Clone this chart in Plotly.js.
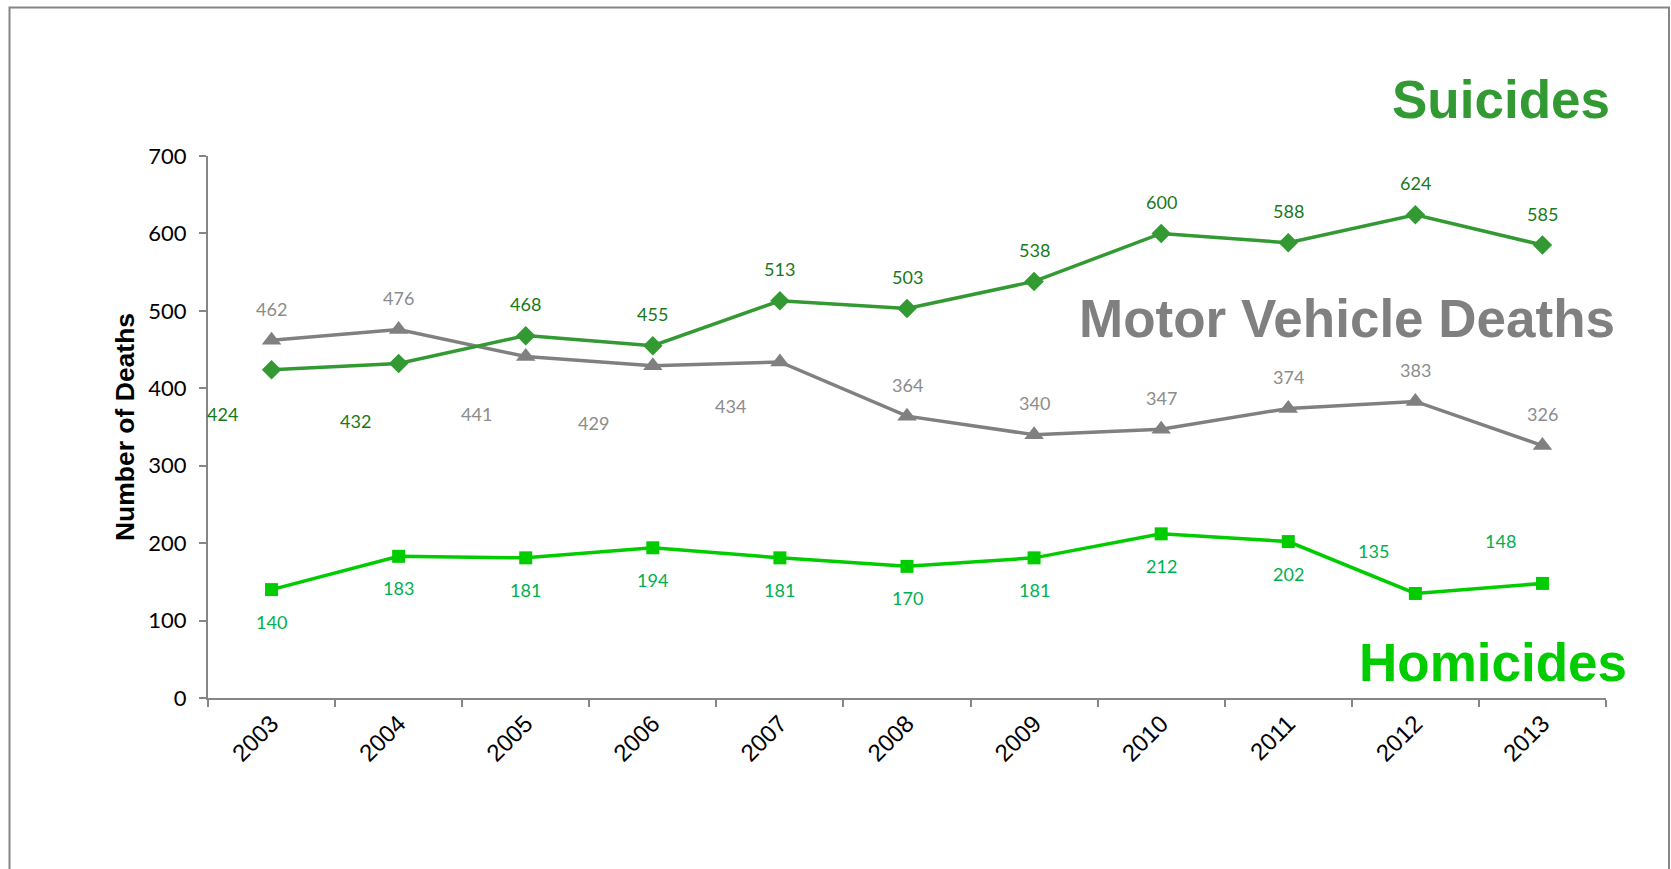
<!DOCTYPE html>
<html>
<head>
<meta charset="utf-8">
<script src="https://cdn.plot.ly/plotly-3.0.1.min.js"></script>
<style>
  html, body { margin: 0; padding: 0; background: #ffffff; }
  #chart { width: 1671px; height: 869px; }
</style>
</head>
<body>
<div id="chart"></div>
<script>
// ---- Data ----
const years = ["2003","2004","2005","2006","2007","2008","2009","2010","2011","2012","2013"];
const suicides = [424, 432, 468, 455, 513, 503, 538, 600, 588, 624, 585];
const motorVehicleDeaths = [462, 476, 441, 429, 434, 364, 340, 347, 374, 383, 326];
const homicides = [140, 183, 181, 194, 181, 170, 181, 212, 202, 135, 148];
const yTicks = [0, 100, 200, 300, 400, 500, 600, 700];

// ---- Label placement (style only; screen-pixel offsets, dy positive = down) ----
const ABOVE = [0, -31.5], BELOW = [0, 32];
const suicideLabelPos = [[-49, 44], [-43, 57.5], ABOVE, ABOVE, ABOVE, ABOVE, ABOVE, ABOVE, ABOVE, ABOVE, ABOVE];
const mvLabelPos = [ABOVE, ABOVE, [-49, 57], [-59, 57], [-49, 44], ABOVE, ABOVE, ABOVE, ABOVE, ABOVE, ABOVE];
const homLabelPos = [BELOW, BELOW, BELOW, BELOW, BELOW, BELOW, BELOW, BELOW, BELOW, [-42, -42], [-42, -42]];

const C_SUI = "#339933", C_SUI_TXT = "#17791a";
const C_MV = "#808080", C_MV_TXT = "#8c8c8c";
const C_HOM = "#00cc00", C_HOM_TXT = "#00b050";
const AXIS = "#868686";
const LABEL_FONT = "Lato, 'Open Sans', sans-serif";
const ARIAL = "'Liberation Sans', Arial, sans-serif";

const traces = [
  {
    x: years, y: motorVehicleDeaths, type: "scatter", mode: "lines+markers",
    name: "Motor Vehicle Deaths",
    line: { color: C_MV, width: 3.5 },
    marker: { symbol: "triangle-up", size: 17, color: C_MV },
    hoverinfo: "x+y"
  },
  {
    x: years, y: suicides, type: "scatter", mode: "lines+markers",
    name: "Suicides",
    line: { color: C_SUI, width: 3.5 },
    marker: { symbol: "diamond", size: 15, color: C_SUI },
    hoverinfo: "x+y"
  },
  {
    x: years, y: homicides, type: "scatter", mode: "lines+markers",
    name: "Homicides",
    line: { color: C_HOM, width: 3.5 },
    marker: { symbol: "square", size: 13, color: C_HOM },
    hoverinfo: "x+y"
  }
];

function labels(values, pos, color) {
  return values.map((v, i) => ({
    x: i, y: v, xref: "x", yref: "y",
    text: String(v), showarrow: false,
    xanchor: "center", yanchor: "middle",
    xshift: pos[i][0], yshift: -pos[i][1],
    font: { family: LABEL_FONT, size: 18, color: color }
  }));
}

const annotations = []
  .concat(labels(suicides, suicideLabelPos, C_SUI_TXT))
  .concat(labels(motorVehicleDeaths, mvLabelPos, C_MV_TXT))
  .concat(labels(homicides, homLabelPos, C_HOM_TXT))
  .concat([
    { xref: "paper", yref: "paper", x: 1.0043, y: 1.105, xanchor: "right", yanchor: "middle",
      text: "<b>Suicides</b>", showarrow: false,
      font: { family: ARIAL, size: 53, color: C_SUI } },
    { xref: "paper", yref: "paper", x: 1.0079, y: 0.7002, xanchor: "right", yanchor: "middle",
      text: "<b>Motor Vehicle Deaths</b>", showarrow: false,
      font: { family: ARIAL, size: 53, color: C_MV } },
    { xref: "paper", yref: "paper", x: 1.0165, y: 0.0653, xanchor: "right", yanchor: "middle",
      text: "<b>Homicides</b>", showarrow: false,
      font: { family: ARIAL, size: 53, color: C_HOM } }
  ]);

const layout = {
  width: 1671, height: 869,
  margin: { l: 208, r: 65, t: 156, b: 171, pad: 0 },
  paper_bgcolor: "#ffffff", plot_bgcolor: "#ffffff",
  showlegend: false,
  xaxis: {
    type: "category",
    range: [-0.5, years.length - 0.5],
    showline: true, linecolor: AXIS, linewidth: 2,
    showgrid: false, zeroline: false,
    ticks: "outside", tickson: "boundaries", ticklen: 7, tickwidth: 2, tickcolor: AXIS,
    tickangle: -45,
    tickfont: { family: ARIAL, size: 24, color: "#000000" },
    fixedrange: true
  },
  yaxis: {
    range: [0, 700],
    tickmode: "array", tickvals: yTicks, ticktext: yTicks.map(String),
    showline: true, linecolor: AXIS, linewidth: 2,
    showgrid: false, zeroline: false,
    ticks: "outside", ticklen: 7, tickwidth: 2, tickcolor: AXIS,
    ticklabelstandoff: 8,
    tickfont: { family: LABEL_FONT, size: 22, color: "#000000" },
    title: { text: "<b>Number of Deaths</b>", standoff: 6,
             font: { family: ARIAL, size: 26.5, color: "#000000" } },
    fixedrange: true
  },
  annotations: annotations,
  shapes: [
    { type: "rect", xref: "paper", yref: "paper",
      x0: (9.5 - 208) / 1398, x1: (1669 - 208) / 1398,
      y0: (698 - 900) / 542, y1: (698 - 7.5) / 542,
      line: { color: AXIS, width: 2 }, fillcolor: "rgba(0,0,0,0)", layer: "below" }
  ]
};

Plotly.newPlot("chart", traces, layout, { displayModeBar: false, staticPlot: false });
</script>
</body>
</html>
